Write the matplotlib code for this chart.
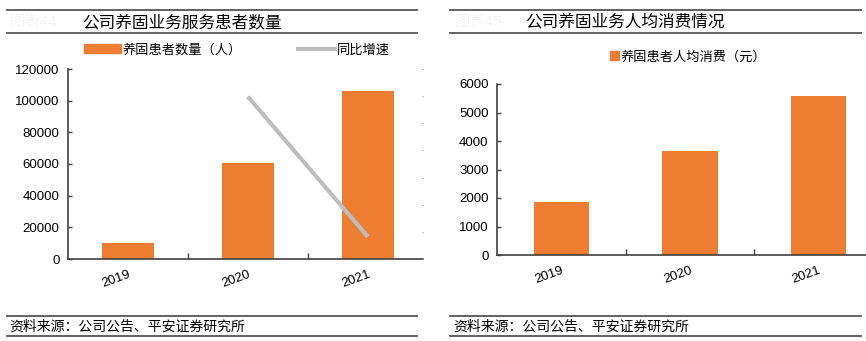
import numpy as np
import matplotlib
matplotlib.use("Agg")
import matplotlib.pyplot as plt
from matplotlib.lines import Line2D
from matplotlib.patches import Patch

plt.rcParams['font.family'] = ['Liberation Sans', 'Noto Sans CJK SC']

# data
years = ["2019", "2020", "2021"]
patients = [9800, 60600, 106300]          # 养固患者数量（人）
yoy_pct = [np.nan, 598, 82]               # 同比增速 (%), labels hidden on the right axis
spend = [1850, 3665, 5590]                # 养固患者人均消费（元）

orange = "#ED7D31"
grey_line = "#BDBDBD"
dark = "#404040"

W, H = 866, 341
fig = plt.figure(figsize=(W / 100, H / 100), dpi=100)


def box(x0, y0, x1, y1):
    # pixel box -> figure fraction rect
    return [x0 / W, 1 - y1 / H, (x1 - x0) / W, (y1 - y0) / H]


def hline(x0, x1, y):
    fig.add_artist(Line2D([x0 / W, x1 / W], [1 - y / H, 1 - y / H],
                          color="#555555", lw=1.3, transform=fig.transFigure))


def style_axes(ax):
    for s in ["top", "right"]:
        ax.spines[s].set_visible(False)
    ax.spines["left"].set_color(dark)
    ax.spines["bottom"].set_color(dark)
    ax.spines["left"].set_linewidth(1.2)
    ax.spines["bottom"].set_linewidth(1.2)
    ax.tick_params(axis="y", direction="in", length=3, width=1, color=dark,
                   labelsize=9.5, pad=6)
    ax.set_xticks(range(len(years)))
    ax.set_xticklabels(years, rotation=20, ha="right", va="top",
                       rotation_mode="anchor", fontsize=9.5)
    ax.tick_params(axis="x", which="major", length=0, pad=7)
    ax.set_xticks([0.5, 1.5], minor=True)
    ax.tick_params(axis="x", which="minor", direction="in", length=4,
                   width=1, color=dark)


# ---- panel frames / headers ----
for x0, x1 in [(7, 417), (450, 861)]:
    hline(x0, x1, 10)
    hline(x0, x1, 33)
    hline(x0, x1, 316)
    hline(x0, x1, 336)

fig.text(10 / W, 1 - 22 / H, "图表44", fontsize=11, color="#f5f5f5", va="center")
fig.text(455 / W, 1 - 22 / H, "图表45", fontsize=11, color="#f5f5f5", va="center")
fig.text(82 / W, 1 - 22 / H, "公司养固业务服务患者数量", fontsize=12,
         fontweight="medium", va="center")
fig.text(525 / W, 1 - 22 / H, "公司养固业务人均消费情况", fontsize=12,
         fontweight="medium", va="center")
fig.text(9 / W, 1 - 327 / H, "资料来源：公司公告、平安证券研究所", fontsize=10,
         va="center", style="italic")
fig.text(453 / W, 1 - 327 / H, "资料来源：公司公告、平安证券研究所", fontsize=10,
         va="center", style="italic")

# ---- left: patients + yoy ----
ax1 = fig.add_axes(box(68, 69, 423, 259))
x = np.arange(len(years))
ax1.bar(x, patients, width=0.43, color=orange)
ax1.set_ylim(0, 120000)
ax1.set_yticks(np.arange(0, 120001, 20000))
ax1.set_xlim(-0.5, 2.46)
style_axes(ax1)

ax1b = ax1.twinx()
ax1b.plot(x, yoy_pct, color=grey_line, lw=3, solid_capstyle="butt")
ax1b.set_ylim(0, 700)
ax1b.set_yticks(np.arange(0, 701, 100))
ax1b.set_yticklabels([])
ax1b.tick_params(axis="y", direction="in", length=1, width=0.8, color="#888888")
for s in ["top", "right", "left", "bottom"]:
    ax1b.spines[s].set_visible(False)

handles = [Patch(color=orange), Line2D([], [], color=grey_line, lw=3)]
fig.legend(handles, ["养固患者数量（人）", "同比增速"], loc="center",
           bbox_to_anchor=(237 / W, 1 - 50 / H), ncol=2, frameon=False,
           fontsize=9.5, handlelength=2.8, handleheight=0.6, handletextpad=0.1,
           columnspacing=4.3)

# ---- right: spend per patient ----
ax2 = fig.add_axes(box(497, 84, 866, 255))
ax2.bar(x, spend, width=0.43, color=orange)
ax2.set_ylim(0, 6000)
ax2.set_yticks(np.arange(0, 6001, 1000))
ax2.set_xlim(-0.5, 2.37)
style_axes(ax2)

fig.legend([Patch(color=orange)], ["养固患者人均消费（元）"], loc="center",
           bbox_to_anchor=(688 / W, 1 - 57 / H), frameon=False, fontsize=9.5,
           handlelength=0.7, handleheight=0.7, handletextpad=0.1)

fig.savefig("out.png", dpi=100)
